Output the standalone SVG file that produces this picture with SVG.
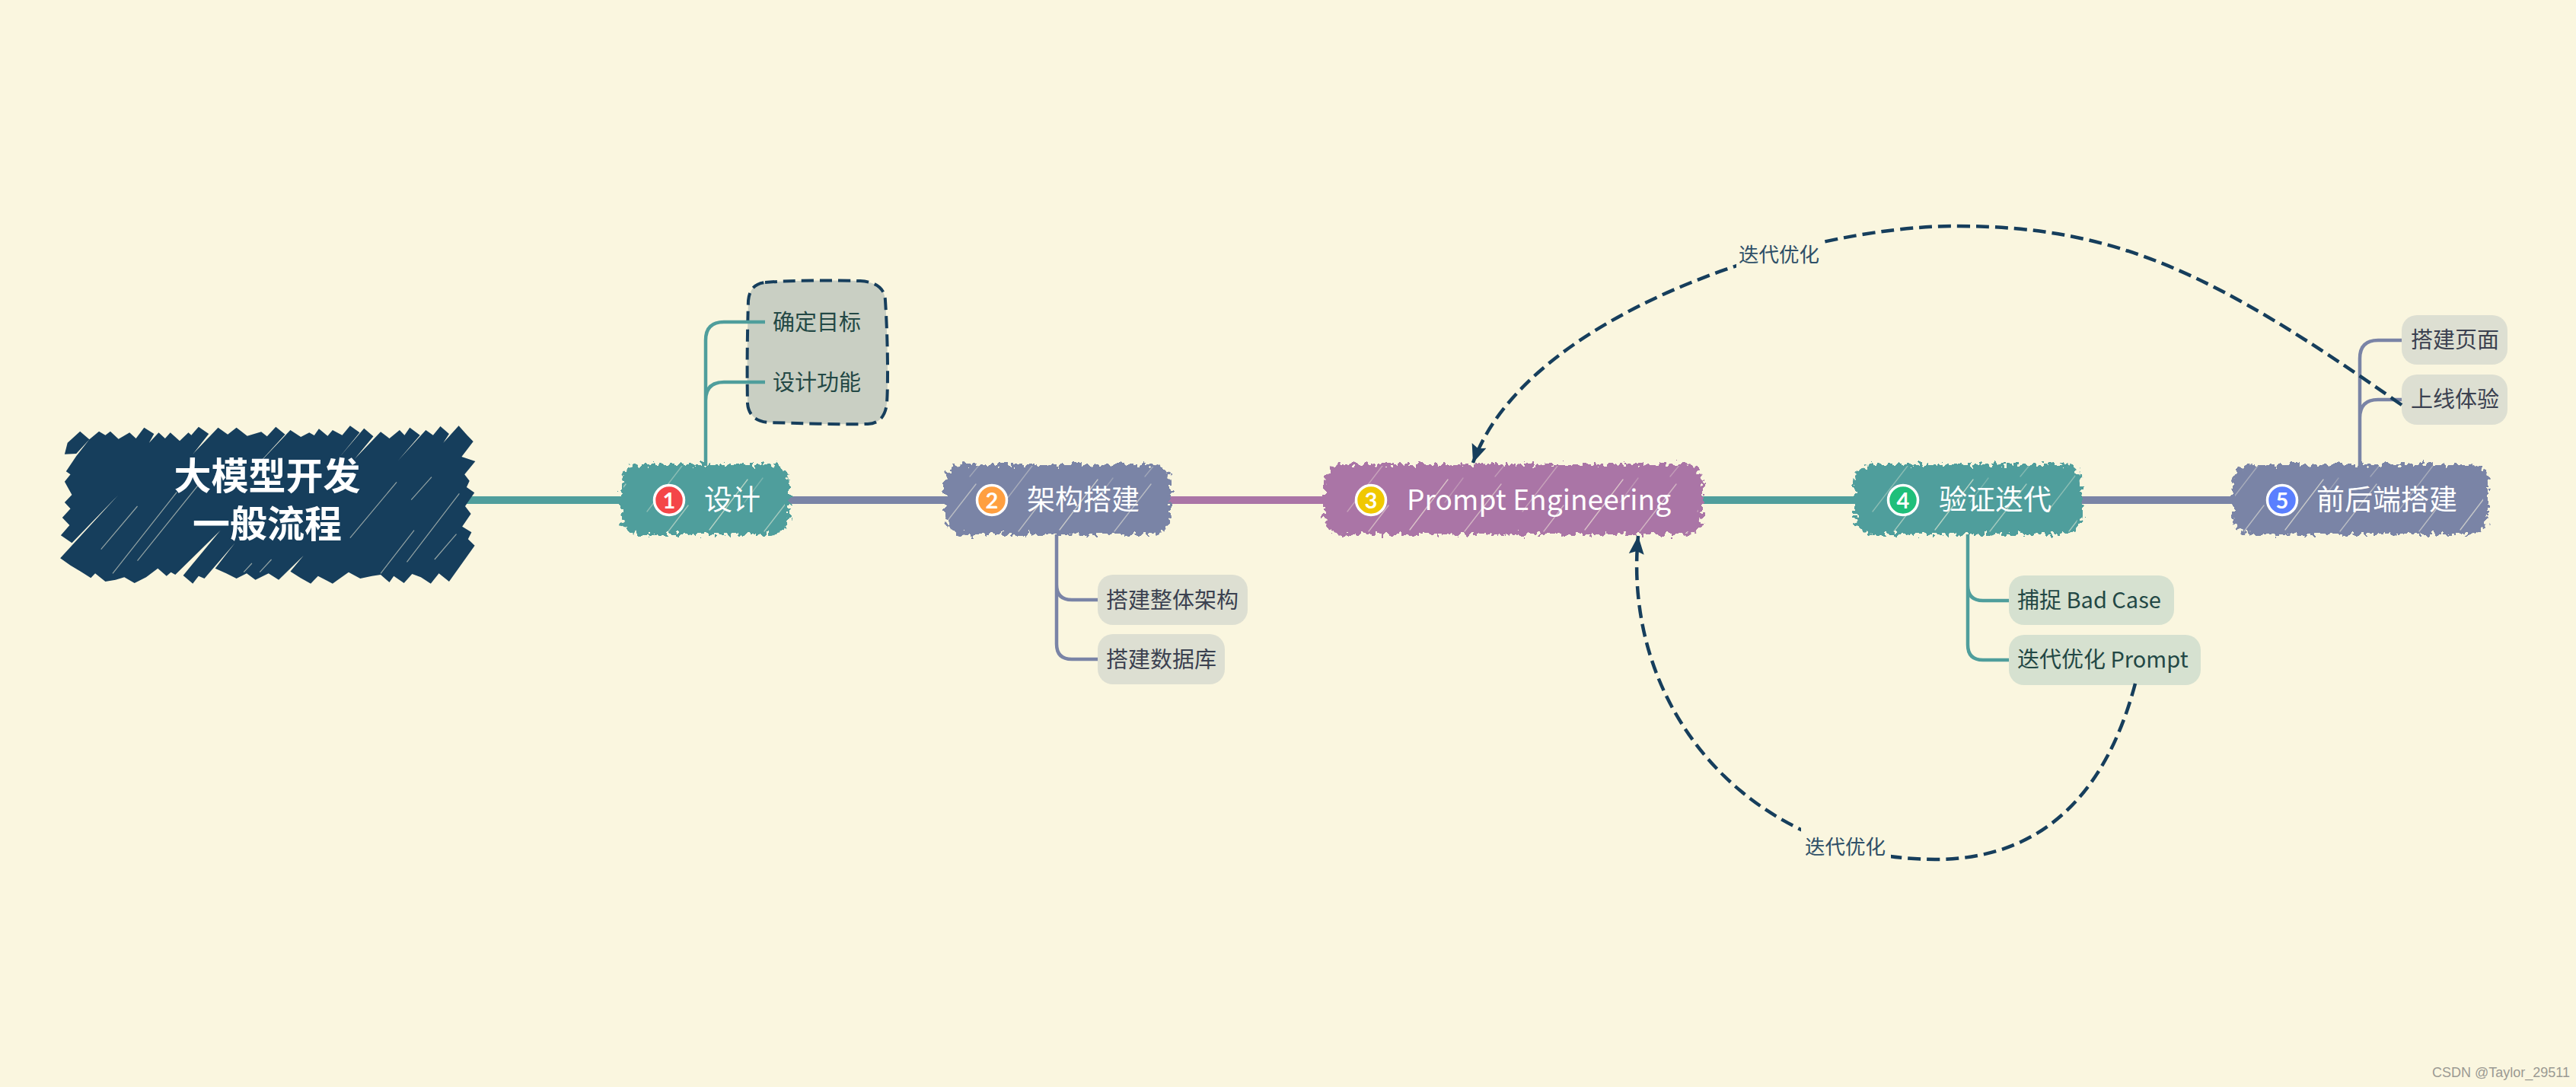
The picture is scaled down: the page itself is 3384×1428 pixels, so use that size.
<svg xmlns="http://www.w3.org/2000/svg" width="3384" height="1428" viewBox="0 0 3384 1428">
<style>
text{font-family:"Noto Sans CJK SC","Noto Sans",sans-serif}
.m{font-size:37px;fill:#fff}
.s{font-size:29px}
.sl{fill:#3b4150}
.st{fill:#234845}
.n{font-size:29px;font-weight:700;fill:#fff;text-anchor:middle;font-family:"Lato","Noto Sans",sans-serif}
.r{font-size:49px;font-weight:700;fill:#fff;text-anchor:middle}
.l{font-size:26.5px;fill:#2f5068}
.ring{stroke:#fff;stroke-width:3.5}
.gl{fill:#dddfd2}
.gt{fill:#d6e1d0}
.e{fill:none;stroke-width:10}
.b{fill:none;stroke-width:4.5}
.d{fill:none;stroke:#163e5c;stroke-width:4.5;stroke-dasharray:17 8}
.g{fill:#faf6df}
.w{stroke:#faf6df;stroke-width:1.2;stroke-opacity:.55;vector-effect:non-scaling-stroke}
</style>
<defs>
<filter id="rough" x="-8%" y="-20%" width="116%" height="140%" color-interpolation-filters="sRGB">
<feTurbulence type="fractalNoise" baseFrequency="0.16" numOctaves="2" seed="7"/>
<feDisplacementMap in="SourceGraphic" scale="17" xChannelSelector="R" yChannelSelector="G"/>
</filter>
<pattern id="hatch" width="230" height="100" patternUnits="userSpaceOnUse">
<g stroke="#faf6df" stroke-width="1.3" fill="none" stroke-linecap="round">
<path d="M12 96L62 30" stroke-opacity=".6"/>
<path d="M84 98L132 36" stroke-opacity=".5"/>
<path d="M160 72L206 12" stroke-opacity=".35"/>
<path d="M58 60L82 28" stroke-opacity=".25"/>
<path d="M188 98L214 64" stroke-opacity=".5"/>
<path d="M124 26L142 4" stroke-opacity=".3"/>
</g>
</pattern>
<marker id="arrow" markerUnits="userSpaceOnUse" markerWidth="26" markerHeight="22" refX="24" refY="11" orient="auto">
<path d="M0 1L24 11L0 21L4 11Z" fill="#163e5c"/>
</marker>
</defs>
<rect width="3384" height="1428" fill="#faf6df"/>

<g id="summary">
<path d="M1005 371C1040 368 1090 368 1130 369Q1162 371 1163 395C1166 440 1167 500 1165 530Q1162 556 1140 557C1100 558 1050 556 1010 555Q984 553 982 530C981 480 982 430 983 395Q985 373 1005 371Z" fill="#c9cfc3" stroke="#163e5c" stroke-width="4" stroke-dasharray="16 8"/>
</g>

<g id="connectors">
<path class="e" stroke="#4f9e9c" d="M600 657H830"/>
<path class="e" stroke="#7a84a6" d="M1025 657H1250"/>
<path class="e" stroke="#aa75a6" d="M1530 657H1750"/>
<path class="e" stroke="#4f9e9c" d="M2225 657H2445"/>
<path class="e" stroke="#7a84a6" d="M2725 657H2945"/>
<path class="b" stroke="#4f9e9c" d="M927 612V447Q927 423 951 423H1005M927 526Q927 502 951 502H1005"/>
<path class="b" stroke="#7a84a6" d="M1388 702V768Q1388 788 1408 788H1442M1388 768V846Q1388 866 1408 866H1442"/>
<path class="b" stroke="#4f9e9c" d="M2585 702V769Q2585 789 2605 789H2639M2585 769V847Q2585 867 2605 867H2639"/>
<path class="b" stroke="#7a84a6" d="M3100 612V471Q3100 447 3124 447H3155M3100 549Q3100 525 3124 525H3155"/>
</g>

<g id="root">
<g transform="translate(60 540) scale(.38265 .33333)">
<path fill="#163e5c" d="M118 80L150 112L105 168L65 170L75 125ZM183 80L205 95L222 80L250 110L240 125L90 312L65 278L85 250L70 238L105 178L150 112ZM288 85L310 108L338 65L372 90L355 125L388 85L410 108L428 85L460 118L490 85L500 95L525 62L560 90L505 170L592 65L625 92L655 65L692 98L740 82L760 100L790 62L822 92L700 245L840 75L876 102L905 85L922 96L938 70L968 98L985 75L1018 95L1045 58L1078 85L1010 180L1093 68L1125 100L1060 190L1150 82L1180 108L1215 75L1232 95L1250 65L1285 95L1210 195L1305 75L1330 95L1355 60L1385 90L1365 125L1418 58L1447 95L1468 120L1428 180L1475 198L1438 250L1455 275L1445 300L1472 322L1440 375L1460 405L1430 455L1462 478L1450 505L1473 530L1385 672L1350 640L1322 680L1288 655L1258 642L1230 678L1195 650L1180 675L1150 645L1120 650L1080 660L1040 635L985 680L935 650L910 680L875 658L840 632L885 570L800 665L765 640L720 665L690 640L655 660L620 640L582 620L650 520L545 660L525 650L505 680L472 648L600 470L445 645L430 635L415 650L385 620L345 655L305 678L270 655L240 665L205 672L170 640L155 658L120 632L85 608L50 580L250 330L90 520L52 490L82 450L57 420L85 385L65 360L90 330L65 278L250 110Z"/>
<path class="w" d="M315 375L190 545M525 290L315 590M450 320L230 640M1205 280L1045 500M1420 325L1240 595M1410 485L1335 585M1265 470L1150 640M775 585L735 635M708 600L680 635M1325 260L1255 350"/>
</g>
<text class="r"><tspan x="351" y="643">大模型开发</tspan><tspan x="351" y="706">一般流程</tspan></text>
</g>

<g id="node1">
<rect filter="url(#rough)" x="816" y="610" width="221" height="92" rx="24" fill="#4f9e9c"/><rect x="819" y="612" width="212" height="92" rx="24" fill="url(#hatch)"/>
<circle class="ring" cx="879" cy="657" r="19.5" fill="#f44548"/><text class="n" x="879" y="668">1</text>
<text class="m" x="925" y="670">设计</text>
</g>
<g id="node2">
<rect filter="url(#rough)" x="1241" y="610" width="297" height="92" rx="24" fill="#7a84a6"/><rect x="1244" y="612" width="288" height="92" rx="24" fill="url(#hatch)"/>
<circle class="ring" cx="1303" cy="657" r="19.5" fill="#ff9f40"/><text class="n" x="1303" y="668">2</text>
<text class="m" x="1349" y="670">架构搭建</text>
</g>
<g id="node3">
<rect filter="url(#rough)" x="1739" y="610" width="498" height="92" rx="24" fill="#aa75a6"/><rect x="1742" y="612" width="489" height="92" rx="24" fill="url(#hatch)"/>
<circle class="ring" cx="1801" cy="657" r="19.5" fill="#f0c800"/><text class="n" x="1801" y="668">3</text>
<text class="m" x="1848" y="670" textLength="347" lengthAdjust="spacing">Prompt Engineering</text>
</g>
<g id="node4">
<rect filter="url(#rough)" x="2436" y="610" width="299" height="92" rx="24" fill="#4f9e9c"/><rect x="2439" y="612" width="290" height="92" rx="24" fill="url(#hatch)"/>
<circle class="ring" cx="2500" cy="657" r="19.5" fill="#1fbf7a"/><text class="n" x="2500" y="668">4</text>
<text class="m" x="2547" y="670">验证迭代</text>
</g>
<g id="node5">
<rect filter="url(#rough)" x="2933" y="610" width="335" height="92" rx="24" fill="#7a84a6"/><rect x="2936" y="612" width="326" height="92" rx="24" fill="url(#hatch)"/>
<circle class="ring" cx="2998" cy="657" r="19.5" fill="#5a7fff"/><text class="n" x="2998" y="668">5</text>
<text class="m" x="3043" y="670">前后端搭建</text>
</g>

<g id="sub1a"><text class="s st" x="1015" y="434">确定目标</text></g>
<g id="sub1b"><text class="s st" x="1015" y="513">设计功能</text></g>
<g id="sub2a"><rect class="gl" x="1442" y="755" width="197" height="66" rx="20"/><text class="s sl" x="1453" y="799">搭建整体架构</text></g>
<g id="sub2b"><rect class="gl" x="1442" y="833" width="167" height="66" rx="20"/><text class="s sl" x="1453" y="877">搭建数据库</text></g>
<g id="sub4a"><rect class="gt" x="2639" y="756" width="217" height="65" rx="20"/><text class="s st" x="2650" y="799">捕捉 Bad Case</text></g>
<g id="sub4b"><rect class="gt" x="2639" y="834" width="252" height="66" rx="20"/><text class="s st" x="2650" y="877">迭代优化 Prompt</text></g>
<g id="sub5a"><rect class="gl" x="3155" y="414" width="139" height="65" rx="20"/><text class="s sl" x="3167" y="457">搭建页面</text></g>
<g id="sub5b"><rect class="gl" x="3155" y="492" width="139" height="66" rx="20"/><text class="s sl" x="3167" y="535">上线体验</text></g>

<g id="relations">
<path class="d" marker-end="url(#arrow)" d="M3155 532C2910 360 2782 297 2570 297C2361 297 2004 415 1935 608"/>
<rect class="g" x="2281" y="308" width="113" height="50"/>
<text class="l" x="2284" y="344">迭代优化</text>
<path class="d" marker-end="url(#arrow)" d="M2805 898C2772 1022 2699 1129 2542 1129C2303 1129 2130 935 2152 704"/>
<rect class="g" x="2366" y="1082" width="118" height="50"/>
<text class="l" x="2371" y="1122">迭代优化</text>
</g>

<text x="3195" y="1415" style="font-family:'Liberation Sans',sans-serif;font-size:18px;fill:#9b9a93">CSDN @Taylor_29511</text>
</svg>
